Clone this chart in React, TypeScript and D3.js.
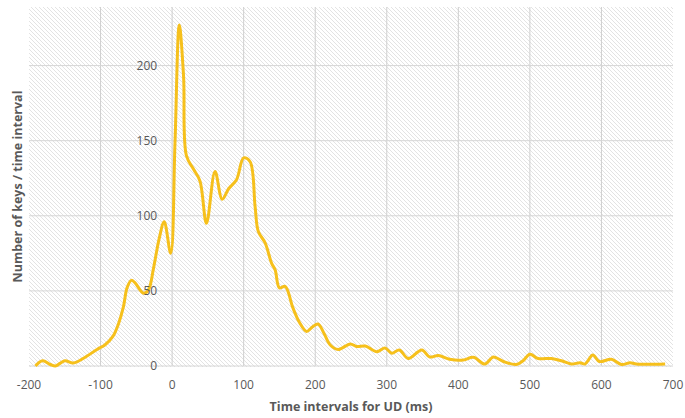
import React from "react";
import * as d3 from "d3";

// time interval (ms) and number of keys per interval
const intervals = [
  -191, -181, -170, -163, -150, -138, -121, -105, -94, -83, -75, -68, -63, -57, -52, -40,
  -33, -26, -18, -11, -2, 4, 10, 16, 20, 30, 39, 48, 60, 70, 79, 90, 100, 109, 116, 120.5,
  130, 139, 144, 150, 158, 169, 178, 188, 196, 204, 212, 221, 232, 249, 258, 270, 286,
  297.5, 307, 317.5, 330, 349, 360, 372, 388, 407, 421, 437, 449, 463, 481, 490.5, 500,
  511.5, 530, 544, 558, 570, 577, 588, 597, 614, 628, 640, 649, 689,
];
const keyCounts = [
  0, 3.5, 1, 0, 3.5, 2, 6, 11, 14, 19.5, 28, 39.5, 52, 57, 55.5, 48.5,
  50.7, 65, 85, 96, 75, 148, 227, 193, 140, 131, 123, 95, 129.5, 111, 118, 124, 138.5, 136, 106, 89.5,
  82, 68.5, 64, 52, 53, 38.5, 29, 23, 26, 28, 22, 14, 11, 14.7, 13, 13.3, 9.5,
  12, 8.5, 10.7, 5, 10.7, 6, 7, 4.5, 4, 5.8, 1.3, 6, 3, 1, 3.5, 7.8,
  5, 5, 3.5, 1.3, 2.2, 1.3, 7.3, 3, 4.5, 1, 2.2, 1.3, 1.3,
];
const xTicks = [-200, -100, 0, 100, 200, 300, 400, 500, 600, 700];
const yTicks = [0, 50, 100, 150, 200];

const W = 685, H = 418;
const left = 29, right = 673, top = 7, bottom = 366;

export default function App() {
  const x = d3.scaleLinear().domain([-200, 700]).range([left, right]);
  const y = d3.scaleLinear().domain([0, 239]).range([bottom, top]);
  const pts = intervals.map((v, i) => [v, keyCounts[i]] as [number, number]);
  const line = d3
    .line<[number, number]>()
    .x((d) => x(d[0]))
    .y((d) => y(d[1]))
    .curve(d3.curveCatmullRom.alpha(0.5));
  const font = "'Open Sans', sans-serif";

  return (
    <svg width={W} height={H} style={{ position: "absolute", left: 0, top: 0 }}>
      <defs>
        <pattern id="hatch" width="4" height="4" patternUnits="userSpaceOnUse">
          <path d="M0,0 L4,4 M-1,3 L1,5 M3,-1 L5,1" stroke="#dcdcdc" strokeWidth="0.8" />
        </pattern>
      </defs>
      <rect x={0} y={0} width={W} height={H} fill="#fff" />
      <rect x={left} y={top} width={right - left} height={bottom - top + 1} fill="url(#hatch)" />
      {xTicks.filter((t) => t > -200 && t < 700).map((t) => (
        <line key={"vx" + t} x1={x(t)} x2={x(t)} y1={top} y2={bottom} stroke="#cfcfcf" strokeWidth={1} />
      ))}
      {yTicks.map((t) => (
        <line key={"hy" + t} x1={left} x2={right} y1={y(t)} y2={y(t)} stroke="#d6d6d6" strokeWidth={1} />
      ))}
      <path d={line(pts) || ""} fill="none" stroke="#f6c01c" strokeWidth={3} strokeLinejoin="round" />
      {yTicks.map((t) => (
        <text key={"ly" + t} x={x(0) - 15} y={y(t)} dy="0.35em" textAnchor="end"
          fontFamily={font} fontSize={12} fill="#595959">{t}</text>
      ))}
      {xTicks.map((t) => (
        <text key={"lx" + t} x={x(t)} y={389} textAnchor="middle"
          fontFamily={font} fontSize={12} fill="#595959">{t}</text>
      ))}
      <text x={(left + right) / 2} y={411} textAnchor="middle" fontFamily={font}
        fontSize={12.5} fontWeight="bold" fill="#595959">Time intervals for UD (ms)</text>
      <text transform={`translate(22,${(top + bottom) / 2}) rotate(-90)`} textAnchor="middle"
        fontFamily={font} fontSize={12.5} fontWeight="bold" fill="#595959">Number of keys / time interval</text>
    </svg>
  );
}
